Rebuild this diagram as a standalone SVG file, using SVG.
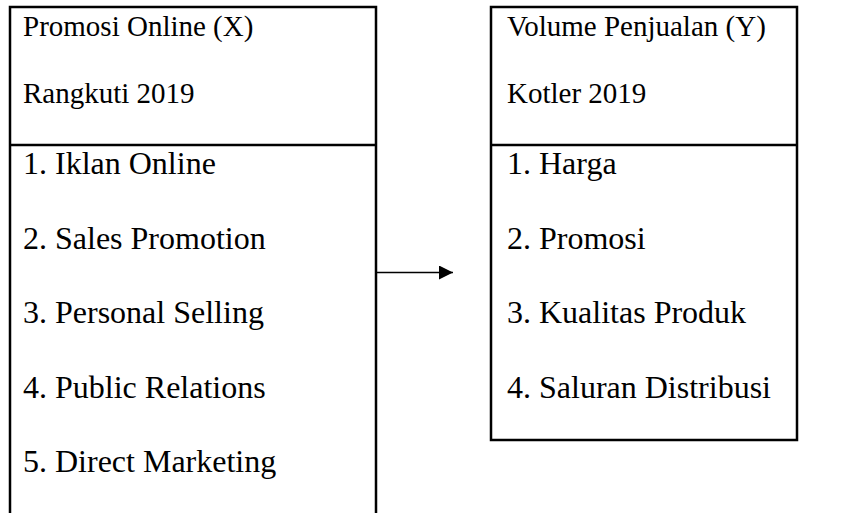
<svg xmlns="http://www.w3.org/2000/svg" width="848" height="513" viewBox="0 0 848 513">
<defs>
<style>
.box{fill:none;stroke:#000;stroke-width:2.5}
.h{font-family:"Liberation Serif","Times New Roman",serif;font-size:29px;fill:#000}
.i{font-family:"Liberation Serif","Times New Roman",serif;font-size:32px;fill:#000}
.conn{stroke:#000;stroke-width:1.5;fill:none}
</style>
<marker id="arr" viewBox="0 0 10 10" refX="10" refY="5" markerWidth="16" markerHeight="14" markerUnits="userSpaceOnUse" orient="auto">
<path d="M0,0 L10,5 L0,10 Z" fill="#000"/>
</marker>
</defs>
<rect width="848" height="513" fill="#fff"/>
<g id="nodeX">
<path class="box" d="M10,513 V7 H376 V513 M10,145 H376"/>
<text class="h" x="23" y="36">Promosi Online (X)</text>
<text class="h" x="23" y="103">Rangkuti 2019</text>
<text class="i" x="23" y="174">1. Iklan Online</text>
<text class="i" x="23" y="248.5">2. Sales Promotion</text>
<text class="i" x="23" y="323">3. Personal Selling</text>
<text class="i" x="23" y="397.5">4. Public Relations</text>
<text class="i" x="23" y="472">5. Direct Marketing</text>
</g>
<g id="nodeY">
<path class="box" d="M491,7 H797 V440 H491 Z M491,145 H797"/>
<text class="h" x="507" y="36">Volume Penjualan (Y)</text>
<text class="h" x="507" y="103">Kotler 2019</text>
<text class="i" x="507" y="174">1. Harga</text>
<text class="i" x="507" y="248.5">2. Promosi</text>
<text class="i" x="507" y="323">3. Kualitas Produk</text>
<text class="i" x="507" y="397.5">4. Saluran Distribusi</text>
</g>
<g id="connectors">
<line class="conn" x1="377" y1="272.5" x2="453" y2="272.5" marker-end="url(#arr)"/>
</g>
</svg>
